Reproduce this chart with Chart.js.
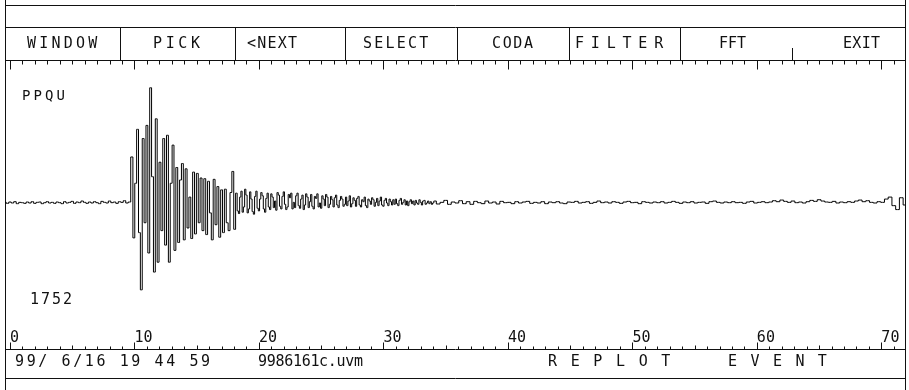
<!DOCTYPE html>
<html>
<head>
<meta charset="utf-8">
<script src="https://cdn.jsdelivr.net/npm/chart.js@4"></script>
<style>
  body { margin: 0; background: #fff; }
  #wrap { position: relative; width: 909px; height: 390px; overflow: hidden; }
  #wrap canvas { position: absolute; left: 0; top: 0; }
  .t { position: absolute; font-family: 'DejaVu Sans Mono', monospace; font-size: 15px; line-height: 15px; color: #111; white-space: pre; }
</style>
</head>
<body>
<div id="wrap">
  <canvas id="seis" width="909" height="390"></canvas>

  <!-- command menu -->
  <div class="t" style="left:27px;top:36px;letter-spacing:3.2px">WINDOW</div>
  <div class="t" style="left:153px;top:36px;letter-spacing:3.6px">PICK</div>
  <div class="t" style="left:247px;top:36px;letter-spacing:1.2px">&lt;NEXT</div>
  <div class="t" style="left:363px;top:36px;letter-spacing:2.2px">SELECT</div>
  <div class="t" style="left:492px;top:36px;letter-spacing:1.6px">CODA</div>
  <div class="t" style="left:575px;top:36px;letter-spacing:6.8px">FILTER</div>
  <div class="t" style="left:719px;top:36px;letter-spacing:0px">FFT</div>
  <div class="t" style="left:843px;top:36px;letter-spacing:0.3px">EXIT</div>

  <!-- station and peak amplitude -->
  <div class="t" style="left:22px;top:88px;font-size:14px;line-height:14px;letter-spacing:3.1px">PPQU</div>
  <div class="t" style="left:30px;top:292px;letter-spacing:2px">1752</div>

  <!-- status line -->
  <div class="t" style="left:15px;top:354px;letter-spacing:2.6px">99/ 6/16 19 44 59</div>
  <div class="t" style="left:258px;top:354px;letter-spacing:-0.3px">9986161c.uvm</div>
  <div class="t" style="left:548px;top:354px;letter-spacing:2.3px">R E P L O T</div>
  <div class="t" style="left:728px;top:354px;letter-spacing:2.2px">E V E N T</div>
</div>

<script>
// time axis (seconds)
var tickValues = [0, 10, 20, 30, 40, 50, 60, 70];
var tickLabels = ['0', '10', '20', '30', '40', '50', '60', '70'];

// vertical component, counts; stretches sampled at different steps
var preStart = -0.4, preStep = 0.2;
var preEvent = [
  10, -5, 15, 0, 20, -10, 10, 5, -5, 15,
  0, 20, -5, 10, 15, -10, 5, 20, 0, 10,
  -5, 15, 5, -10, 20, 0, 10, 25, -5, 15,
  5, 30, 10, -5, 15, 0, 20, 5, -10, 25,
  10, 0, 30, 5, 15, -5, 20, 10, 35, 0,
  15
];

// strong motion, 9.8 s to 18.2 s
var strongStart = 9.8, strongStep = 0.15;
var strongCounts = [
  700, -530, 300, 1120, -450, -1320, 980, -300, 1180, -760,
  1752, 400, -1050, 1280, -900, 620, -420, 980, -640, 1030,
  -900, 300, 880, -720, 540, -600, 350, 600, -560, 520,
  -380, 90, -540, 470, -470, 450, -300, 380, -420, 370,
  -480, 330, -150, -560, 360, -330, 250, -520, 200, -450,
  210, -300, -420, 160, 480, -400, 150
];

// early coda, 18.3 s to 34.0 s
var earlyStart = 18.3, earlyStep = 0.1;
var earlyCoda = [
  -120, -160, 90, 180, -140, -60, 210,
  120, -150, -90, 170, 60, -130, -170, 100, 180, -80,
  -120, 60, 160, 110, -90, -140, 70, 150, -60, -100,
  140, 90, -70, 30, -110, 160, 120, -50, -90, 100,
  170, -20, -100, -60, 130, 80, 150, -90, 10, -70,
  110, 150, -40, -80, 60, 120, -100, -30, 140, 90,
  -70, 20, 130, -50, -90, 100, 70, 140, -60, 0,
  -80, 110, 60, -40, 130, 90, -70, -20, 100, 50,
  -60, 80, 120, -30, -70, 40, 100, 60, -50, -20,
  90, -40, 30, 110, -60, -10, 80, 40, -50, 70,
  100, -30, -60, 50, 20, 90, -40, -70, 60, 30,
  -20, 80, 50, -50, 10, 70, -40, 30, 90, -30,
  -50, 40, 70, 0, -40, 60, 20, -30, 50, -20,
  60, -10, -40, 40, 70, -20, 10, 50, -30, 30,
  -40, 20, 50, -10, 30, -30, 40, 0, -20, 50,
  10, -30, 30, 40, -20, 0, 30, -10, 20, -20,
  0
];

// late coda, 34.1 s to end of record
var codaStart = 34.1, codaStep = 0.3;
var codaCounts = [
  30, -15, 10, 40, -20, 15, 0, 35, -10, 20,
  -20, 25, 5, -10, 30, 0, 15, -15, 25, 5,
  10, -10, 20, 0, 15, 25, -5, 10, 0, 20,
  -10, 15, 5, 20, 0, -10, 15, 10, 25, 0,
  10, 20, -5, 10, 30, 5, 15, 0, 20, 10,
  -5, 15, 25, 5, 10, -10, 20, 10, 0, 15,
  5, 20, 0, 10, 25, 10, -5, 15, 5, 20,
  0, 10, 15, -5, 20, 30, 10, 0, 15, 5,
  20, 5, 10, -5, 15, 25, 0, 10, 20, 5,
  15, 35, 20, 45, 25, 10, 30, 5, 15, 0,
  20, 40, 25, 50, 30, 15, 10, 25, 0, 15,
  5, 20, 10, 30, 45, 20, 35, 10, 0, 20,
  10, 60, 90, -40, -100, 80, -30
];

function toPoints(start, step, counts) {
  return counts.map(function (c, i) {
    return { x: +(start + i * step).toFixed(2), y: c };
  });
}

var trace = [].concat(
  toPoints(preStart, preStep, preEvent),
  toPoints(strongStart, strongStep, strongCounts),
  toPoints(earlyStart, earlyStep, earlyCoda),
  toPoints(codaStart, codaStep, codaCounts)
);

// screen frame: menu bar, tick rows and status box
var frame = {
  id: 'frame',
  beforeDatasetsDraw: function (chart) {
    var c = chart.ctx, xs = chart.scales.x;
    var L = 5.5, R = 905.5;
    c.save();
    c.strokeStyle = '#111';
    c.lineWidth = 1;
    c.beginPath();
    // borders
    c.moveTo(L, 0); c.lineTo(L, 390);
    c.moveTo(R, 0); c.lineTo(R, 390);
    c.moveTo(L, 5.5); c.lineTo(R, 5.5);
    // menu bar
    c.moveTo(L, 27.5); c.lineTo(R, 27.5);
    c.moveTo(L, 60.5); c.lineTo(R, 60.5);
    [120, 235, 345, 457, 569, 680].forEach(function (x) {
      c.moveTo(x + 0.5, 27.5); c.lineTo(x + 0.5, 60.5);
    });
    c.moveTo(792.5, 48); c.lineTo(792.5, 60.5);
    // tick rows
    c.moveTo(L, 349.5); c.lineTo(R, 349.5);
    c.moveTo(L, 378.5); c.lineTo(R, 378.5);
    for (var s = 0; s <= 71; s++) {
      var px = Math.round(xs.getPixelForValue(s)) + 0.5;
      var major = s % 10 === 0;
      c.moveTo(px, 60.5); c.lineTo(px, 60.5 + (major ? 9 : 4));
      c.moveTo(px, 349.5); c.lineTo(px, 349.5 - (major ? 7 : (s % 5 === 0 ? 4 : 3)));
    }
    c.stroke();
    c.restore();
  }
};

new Chart(document.getElementById('seis'), {
  type: 'line',
  data: {
    datasets: [{
      data: trace,
      borderColor: '#000',
      borderWidth: 1,
      pointRadius: 0,
      stepped: 'middle'
    }]
  },
  options: {
    responsive: false,
    animation: false,
    parsing: false,
    layout: { padding: { left: 5, right: 4, top: 60, bottom: 0 } },
    plugins: { legend: { display: false }, tooltip: { enabled: false } },
    scales: {
      x: {
        type: 'linear',
        min: -0.4,
        max: 71.9,
        grid: { display: false },
        border: { display: false },
        afterBuildTicks: function (scale) {
          scale.ticks = tickValues.map(function (v) { return { value: v }; });
        },
        afterFit: function (scale) {
          scale.height = 72;
          scale.paddingLeft = 0;
          scale.paddingRight = 0;
        },
        ticks: {
          autoSkip: false,
          maxRotation: 0,
          minRotation: 0,
          align: 'start',
          padding: 3,
          color: '#111',
          font: { family: 'DejaVu Sans Mono', size: 15 },
          callback: function (v, i) { return tickLabels[i]; }
        }
      },
      y: {
        display: false,
        min: -1748,
        max: 2174
      }
    }
  },
  plugins: [frame]
});
</script>
</body>
</html>
